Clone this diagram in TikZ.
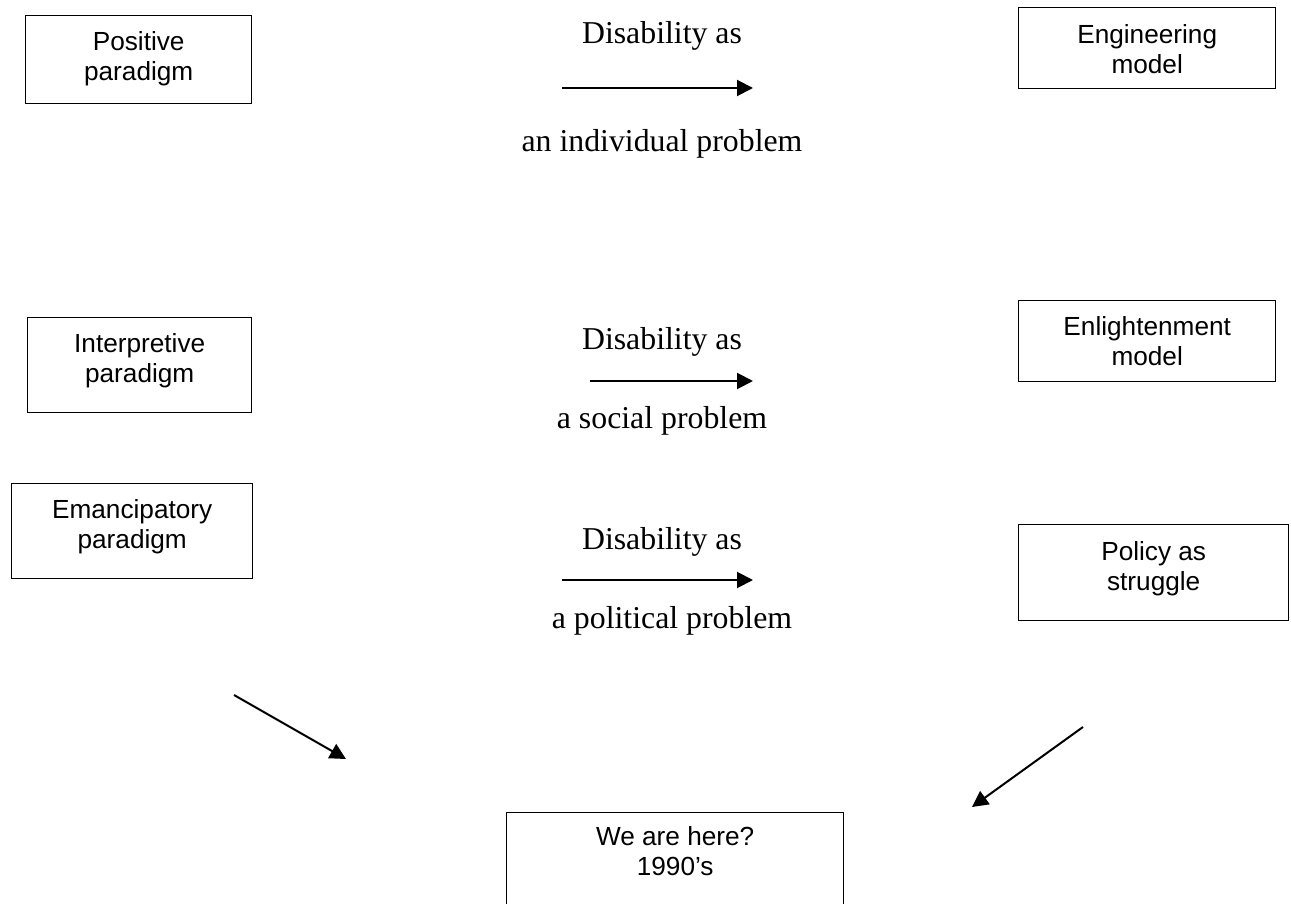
\documentclass[tikz,border=0pt]{standalone}
\usepackage{fontspec}
\setmainfont{Liberation Serif}
\newfontfamily\arialfont{Liberation Sans}
\usetikzlibrary{arrows.meta}
\newcommand\boxtxt[4]{\begin{minipage}[t][#2pt][t]{#1pt}\centering\vspace*{#3pt}\strut #4\end{minipage}}
\tikzset{
  box/.style={draw, line width=1.4pt, inner sep=0pt, anchor=north west,
    font=\arialfont\fontsize{26.2}{30}\selectfont},
  midtext/.style={anchor=base, inner sep=0pt, font=\fontsize{31.8}{38}\selectfont},
  arr/.style={line width=2pt, -{Triangle[length=16pt,width=16pt]}}
}
\begin{document}
\begin{tikzpicture}[x=1pt,y=-1pt]
\useasboundingbox (0,0) rectangle (1291,904);
% left boxes
\node[box] (pos) at (25,15) {\boxtxt{226}{88}{14}{Positive\\paradigm}};
\node[box] (int) at (27,317) {\boxtxt{224}{95}{14}{Interpretive\\paradigm}};
\node[box] (ema) at (11,483) {\boxtxt{241}{95}{14}{Emancipatory\\paradigm}};
% right boxes
\node[box] (eng) at (1018,7) {\boxtxt{257}{81}{15}{Engineering\\model}};
\node[box] (enl) at (1018,300) {\boxtxt{257}{81}{14}{Enlightenment\\model}};
\node[box] (pol) at (1018,524) {\boxtxt{270}{96}{15}{Policy as\\struggle}};
% bottom box
\node[box] (we) at (506,812) {\boxtxt{337}{105}{12}{We are here?\\1990’s}};
% middle rows
\node[midtext] (d1) at (662,44) {Disability as};
\node[midtext] (p1) at (662,152) {an individual problem};
\coordinate (a1s) at (562,88);
\coordinate (a1e) at (753,88);
\draw[arr] (a1s) -- (a1e);
\node[midtext] (d2) at (662,349) {Disability as};
\node[midtext] (p2) at (662,428) {a social problem};
\coordinate (a2s) at (590,381);
\coordinate (a2e) at (753,381);
\draw[arr] (a2s) -- (a2e);
\node[midtext] (d3) at (662,549) {Disability as};
\node[midtext] (p3) at (672,628) {a political problem};
\coordinate (a3s) at (562,580);
\coordinate (a3e) at (753,580);
\draw[arr] (a3s) -- (a3e);
% diagonal arrows
\coordinate (l1) at (234,695);
\coordinate (l2) at (346,759);
\draw[arr] (l1) -- (l2);
\coordinate (r1) at (1083,727);
\coordinate (r2) at (972,807);
\draw[arr] (r1) -- (r2);
\end{tikzpicture}
\end{document}
